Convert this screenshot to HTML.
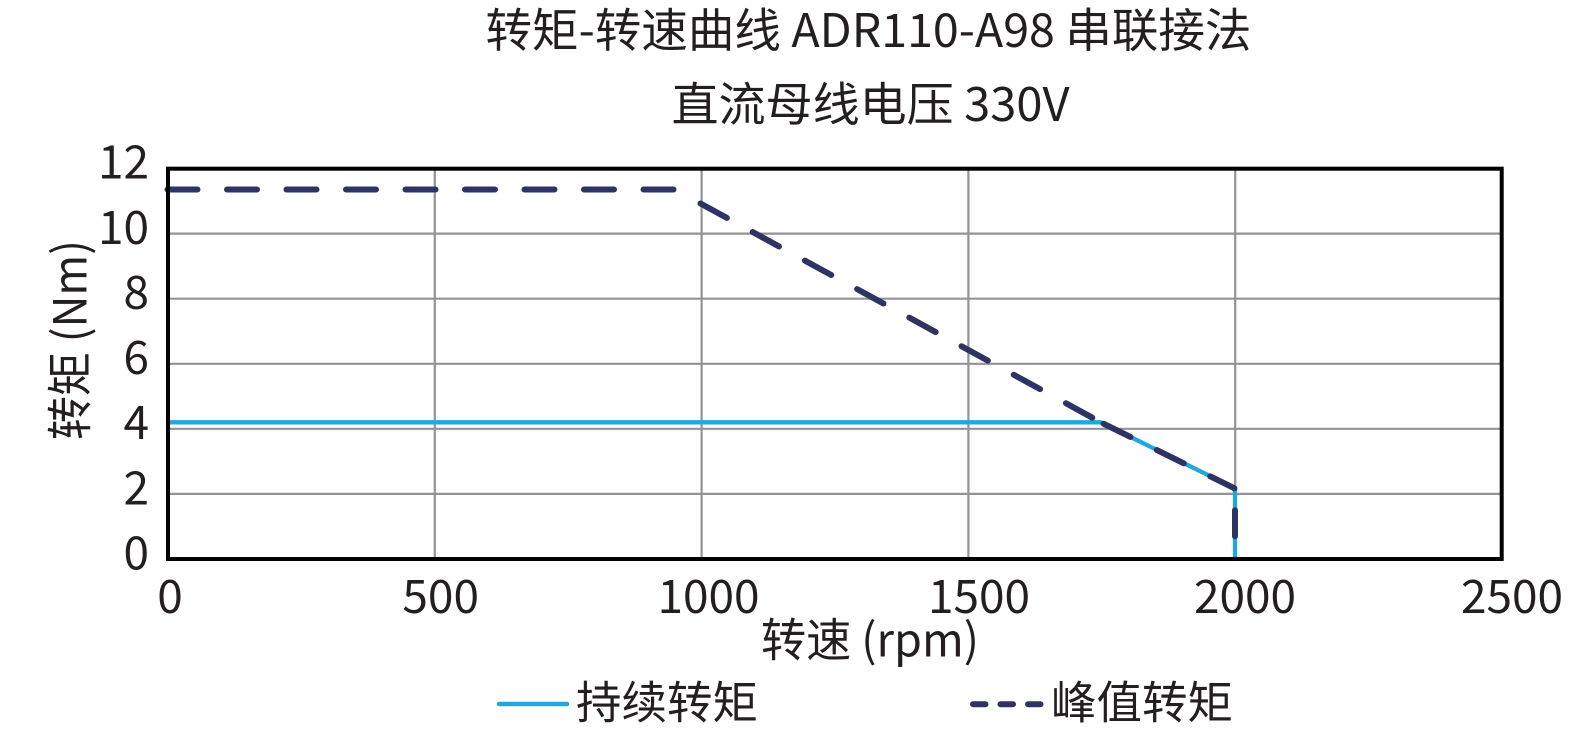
<!DOCTYPE html>
<html>
<head>
<meta charset="utf-8">
<style>
html,body{margin:0;padding:0;background:#fff;}
svg{display:block;}
text{font-family:"Noto Sans CJK SC","Liberation Sans","Noto Sans CJK JP",sans-serif;fill:#231f20;}
</style>
</head>
<body>
<svg width="1593" height="741" viewBox="0 0 1593 741" xmlns="http://www.w3.org/2000/svg">
  <rect width="1593" height="741" fill="#fff"/>
  <!-- Title -->
  <text x="868.5" y="47" font-size="46.5" text-anchor="middle" textLength="766" lengthAdjust="spacingAndGlyphs">转矩-转速曲线 ADR110-A98 串联接法</text>
  <text x="870.5" y="121" font-size="46.5" text-anchor="middle" textLength="398" lengthAdjust="spacingAndGlyphs">直流母线电压 330V</text>

  <!-- grid -->
  <g stroke="#939393" stroke-width="2.2" fill="none">
    <line x1="434.8" y1="168.5" x2="434.8" y2="559"/>
    <line x1="701.6" y1="168.5" x2="701.6" y2="559"/>
    <line x1="968.4" y1="168.5" x2="968.4" y2="559"/>
    <line x1="1235.2" y1="168.5" x2="1235.2" y2="559"/>
    <line x1="168" y1="493.9" x2="1502" y2="493.9"/>
    <line x1="168" y1="428.8" x2="1502" y2="428.8"/>
    <line x1="168" y1="363.8" x2="1502" y2="363.8"/>
    <line x1="168" y1="298.7" x2="1502" y2="298.7"/>
    <line x1="168" y1="233.6" x2="1502" y2="233.6"/>
  </g>

  <!-- continuous torque -->
  <polyline points="168,422.3 1100.7,422.3 1235,488.3 1235,559" fill="none" stroke="#20a7dd" stroke-width="4.3" stroke-linejoin="round"/>

  <!-- peak torque (dashed) -->
  <g fill="none" stroke="#2e3364" stroke-width="6" stroke-linecap="round" stroke-dasharray="30 29.5">
    <line x1="167.5" y1="189.5" x2="700" y2="189.5"/>
    <line x1="700.5" y1="203.5" x2="1100.7" y2="422.3"/>
    <line x1="1103.5" y1="423.7" x2="1234.5" y2="488.3"/>
    <line x1="1235" y1="488.3" x2="1235" y2="559" stroke-dashoffset="37.5" stroke-dasharray="26 33.5"/>
  </g>

  <!-- frame -->
  <rect x="168" y="168.7" width="1333.7" height="390.3" fill="none" stroke="#000" stroke-width="4"/>

  <!-- y tick labels -->
  <g font-size="46" text-anchor="end">
    <text x="149" y="178.5">12</text>
    <text x="149" y="244">10</text>
    <text x="149" y="309">8</text>
    <text x="149" y="374">6</text>
    <text x="149" y="439">4</text>
    <text x="149" y="504.5">2</text>
    <text x="149" y="569.5">0</text>
  </g>

  <!-- x tick labels -->
  <g font-size="46" text-anchor="middle">
    <text x="170" y="613">0</text>
    <text x="440.7" y="613">500</text>
    <text x="708.5" y="613">1000</text>
    <text x="979" y="613">1500</text>
    <text x="1245" y="613">2000</text>
    <text x="1512" y="613">2500</text>
  </g>

  <!-- axis titles -->
  <text x="870" y="656.5" font-size="46" text-anchor="middle" textLength="218" lengthAdjust="spacingAndGlyphs">转速 (rpm)</text>
  <text transform="translate(86.5,340) rotate(-90)" font-size="46" text-anchor="middle" textLength="200" lengthAdjust="spacingAndGlyphs">转矩 (Nm)</text>

  <!-- legend -->
  <line x1="499" y1="704" x2="567" y2="704" stroke="#20a7dd" stroke-width="4.5" stroke-linecap="round"/>
  <text x="576" y="718.5" font-size="45" textLength="182" lengthAdjust="spacingAndGlyphs">持续转矩</text>
  <line x1="973" y1="704.3" x2="1042" y2="704.3" stroke="#2e3364" stroke-width="6" stroke-linecap="round" stroke-dasharray="12.5 15"/>
  <text x="1051" y="718.5" font-size="45" textLength="182" lengthAdjust="spacingAndGlyphs">峰值转矩</text>
</svg>
</body>
</html>
